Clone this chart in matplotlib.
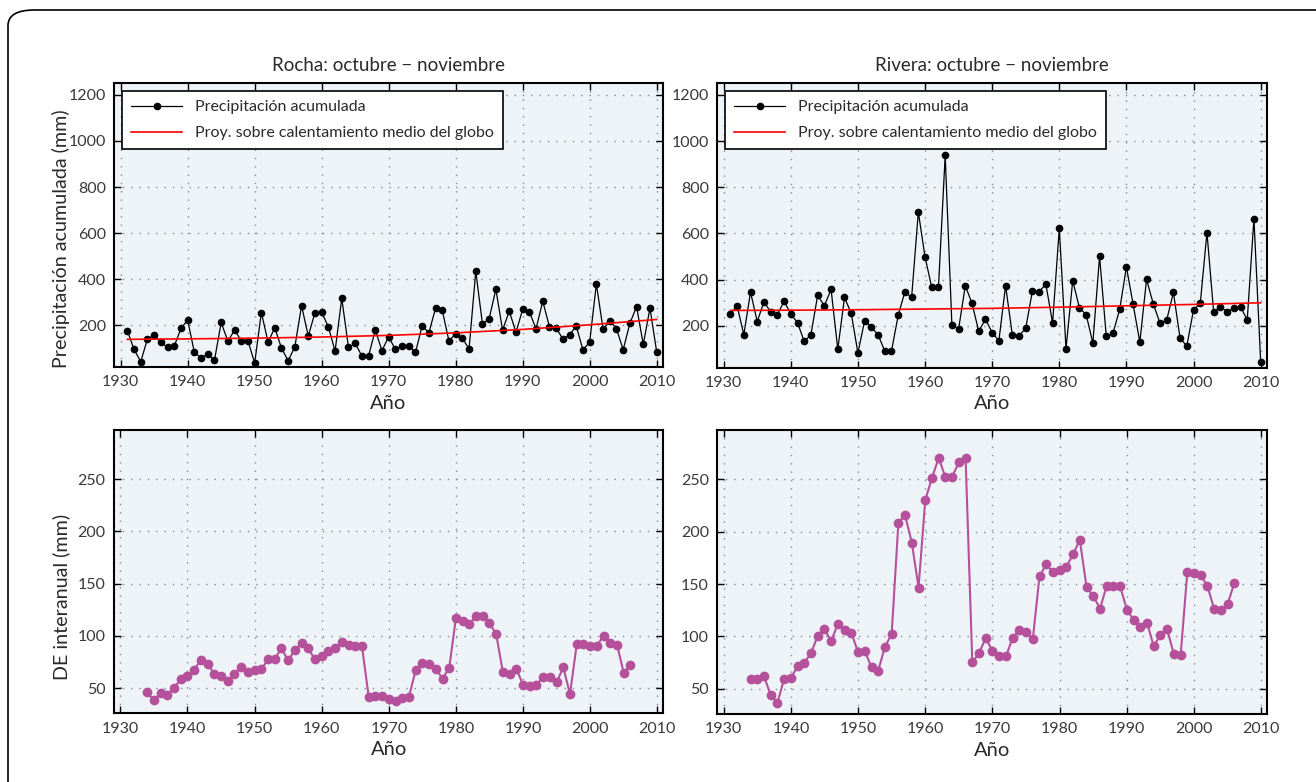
import numpy as np
import matplotlib
matplotlib.use("Agg")
import matplotlib.pyplot as plt
from matplotlib.patches import FancyBboxPatch

plt.rcParams['font.family'] = ['Lato', 'DejaVu Sans']

# ---- data ----
years = np.arange(1931, 2011)
rocha_pp = [177, 96, 43, 142, 158, 128, 105, 111, 187, 224,
            83, 60, 75, 49, 213, 132, 180, 134, 134, 37,
            256, 128, 190, 102, 47, 108, 286, 154, 256, 258,
            194, 89, 318, 105, 122, 68, 68, 180, 91, 151,
            96, 109, 109, 83, 199, 168, 275, 266, 132, 165,
            144, 99, 435, 206, 230, 357, 180, 262, 170, 270,
            258, 186, 305, 194, 191, 140, 160, 197, 94, 128,
            380, 184, 220, 186, 95, 209, 282, 118, 275, 86]
rivera_pp = [251, 287, 162, 346, 219, 304, 261, 249, 307, 252,
             214, 133, 162, 332, 287, 358, 99, 323, 255, 83,
             223, 194, 162, 91, 91, 246, 348, 323, 693, 498,
             367, 367, 938, 204, 187, 374, 297, 177, 229, 171,
             136, 374, 162, 157, 190, 352, 348, 381, 212, 622,
             101, 396, 278, 249, 126, 501, 155, 168, 272, 455,
             293, 130, 401, 296, 212, 225, 345, 146, 113, 270,
             297, 604, 259, 284, 261, 277, 283, 226, 664, 45]

proj_years = [1931, 1940, 1950, 1960, 1970, 1980, 1990, 2000, 2010]
rocha_proj = [140, 142, 145, 150, 157, 168, 183, 203, 226]
rivera_proj = [267, 268, 270, 273, 276, 281, 287, 293, 300]

de_years = np.arange(1934, 2007)
rocha_de = [45.9, 38.3, 45.3, 43.4, 50.6, 58.5, 61.7, 67.7, 77.2, 73.1,
            63.6, 62.0, 57.0, 63.9, 69.9, 65.2, 67.1, 68.0, 77.5, 78.2,
            88.0, 76.6, 86.4, 93.0, 88.0, 77.5, 80.7, 85.4, 88.6, 94.3,
            91.5, 89.9, 90.2, 41.8, 43.0, 42.7, 39.6, 38.0, 40.8, 41.8,
            67.1, 74.4, 72.8, 68.7, 59.2, 69.3, 117.4, 114.2, 111.4, 119.0,
            119.0, 112.3, 101.6, 65.2, 63.9, 68.7, 53.2, 52.2, 53.2, 61.1,
            60.8, 55.7, 69.9, 44.3, 92.1, 92.1, 90.8, 90.5, 100.3, 93.4,
            91.8, 64.9, 71.8]
rivera_de = [59.6, 59.6, 61.8, 44.3, 36.9, 59.6, 59.9, 72.0, 74.9, 84.1,
             100.7, 106.8, 95.6, 112.2, 106.1, 103.6, 84.8, 86.4, 70.4, 67.5,
             90.2, 102.3, 208.5, 215.6, 189.4, 146.7, 230.2, 251.3, 270.4, 251.9,
             252.6, 266.0, 270.4, 75.2, 84.1, 98.5, 86.0, 81.3, 80.9, 98.5,
             105.8, 103.9, 97.2, 157.5, 168.7, 161.3, 163.3, 166.4, 178.6, 192.0,
             147.3, 138.7, 126.6, 148.3, 148.3, 147.9, 125.6, 115.7, 109.3, 113.2,
             90.5, 101.7, 106.8, 82.9, 81.9, 161.6, 160.4, 158.5, 147.9, 125.9,
             125.6, 131.0, 151.1]

titles = ["Rocha: octubre \u2212 noviembre", "Rivera: octubre \u2212 noviembre"]
xticks = [1930, 1940, 1950, 1960, 1970, 1980, 1990, 2000, 2010]

W, H = 1316, 782
fig = plt.figure(figsize=(W / 100, H / 100), dpi=100)

# rounded frame that runs off the right/bottom edges
frame = FancyBboxPatch((8 / W, -0.2), 1.2, (782 - 10) / H + 0.2,
                       boxstyle="round,pad=0,rounding_size=0.02",
                       transform=fig.transFigure, fill=False,
                       edgecolor='black', linewidth=1.2)
fig.patches.append(frame)


def px_axes(left, right, top, bottom):
    return fig.add_axes([left / W, (H - bottom) / H, (right - left) / W, (bottom - top) / H])


bg = '#eef3f8'
magenta = '#b5509a'
txt = '#2a2a2a'


def style(ax):
    ax.set_facecolor(bg)
    ax.set_xlim(1929.05, 2010.9)
    ax.set_xticks(xticks)
    ax.grid(True, linestyle=(0, (1, 5)), color='#8a8a8a', linewidth=1.0)
    ax.tick_params(direction='in', top=True, right=True, length=5, width=1,
                   labelsize=11.5, labelcolor='#3a3a3a', pad=6)
    for s in ax.spines.values():
        s.set_linewidth(1.5)
    ax.set_xlabel("A\u00f1o", fontsize=14.5, color=txt, labelpad=4)


top_axes = [px_axes(114.3, 662.7, 83.3, 367), px_axes(717.3, 1266.7, 83.3, 367.5)]
bot_axes = [px_axes(114, 663.3, 430, 713.3), px_axes(717.3, 1267.3, 430, 714)]

for ax, pp, proj, title in zip(top_axes, [rocha_pp, rivera_pp],
                               [rocha_proj, rivera_proj], titles):
    style(ax)
    ax.plot(years, pp, color='black', linewidth=0.9, marker='o', markersize=4.5,
            label="Precipitaci\u00f3n acumulada")
    ax.plot(proj_years, proj, color='red', linewidth=1.2,
            label="Proy. sobre calentamiento medio del globo")
    ax.set_ylim(20, 1250)
    ax.set_yticks([200, 400, 600, 800, 1000, 1200])
    ax.set_title(title, fontsize=13.5, color=txt, pad=9)
    leg = ax.legend(loc='upper left', bbox_to_anchor=(0.0, 1.0), fontsize=11.5,
                    fancybox=False, edgecolor='black', framealpha=1,
                    handlelength=3.2, borderaxespad=0.5, labelspacing=0.75,
                    borderpad=0.55)
    leg.get_frame().set_linewidth(1.2)
    for t in leg.get_texts():
        t.set_color(txt)

for ax, de in zip(bot_axes, [rocha_de, rivera_de]):
    style(ax)
    ax.plot(de_years, de, color=magenta, linewidth=1.5, marker='o', markersize=6)
    ax.set_ylim(26, 297)
    ax.set_yticks([50, 100, 150, 200, 250])

top_axes[0].set_ylabel("Precipitaci\u00f3n acumulada (mm)", fontsize=14.2, color=txt)
top_axes[0].yaxis.set_label_coords(-0.08, 0.453)
bot_axes[0].set_ylabel("DE interanual (mm)", fontsize=14.2, color=txt)
bot_axes[0].yaxis.set_label_coords(-0.08, 0.41)

fig.savefig("out.png", dpi=100)
